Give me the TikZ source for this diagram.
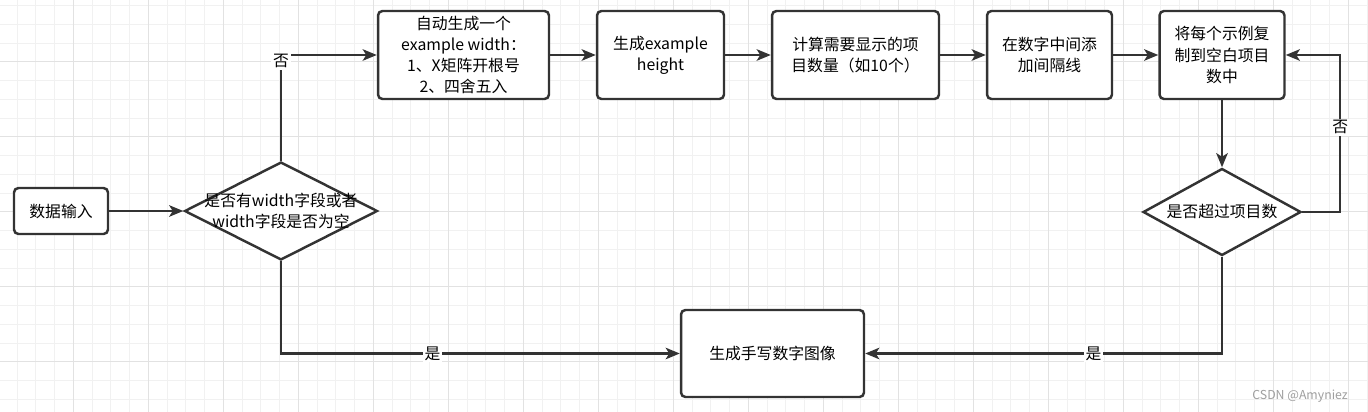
\documentclass[tikz,border=0pt]{standalone}
\usepackage{fontspec}
\setmainfont{Noto Sans CJK SC}
\usetikzlibrary{arrows.meta, positioning, shapes.geometric}
\definecolor{Line}{HTML}{333333}
\definecolor{GridMinor}{HTML}{F1F1F1}
\definecolor{GridMajor}{HTML}{E2E2E2}
\newcommand{\zhfont}{\fontsize{9pt}{12pt}\selectfont}

\begin{document}
\begin{tikzpicture}[x=0.02cm, y=-0.02cm,
    box/.style={rectangle, rounded corners=2.5pt, draw=Line, fill=white, line width=1.4pt, align=center, font=\zhfont, inner sep=2pt},
    decision/.style={diamond, draw=Line, fill=white, line width=1.4pt, inner sep=0pt},
    arrow/.style={-{Stealth[length=8pt, width=6.5pt, inset=2pt]}, draw=Line, line width=1.4pt},
    lbl/.style={fill=white, font=\zhfont, inner sep=1pt}
]
\useasboundingbox (0,0) rectangle (1368,412);
\fill[white] (0,0) rectangle (1368,412);
\begin{scope}
\clip (0,0) rectangle (1368,412);
\foreach \x in {17.05,35.8,...,1368} \draw[GridMinor, line width=0.5pt] (\x,0) -- (\x,412);
\foreach \y in {5.45,24.2,...,412} \draw[GridMinor, line width=0.5pt] (0,\y) -- (1368,\y);
\foreach \x in {-1.7,73.3,...,1368} \draw[GridMajor, line width=0.6pt] (\x,0) -- (\x,412);
\foreach \y in {-13.3,61.7,...,412} \draw[GridMajor, line width=0.6pt] (0,\y) -- (1368,\y);
\end{scope}

\node[box, minimum width=1.88cm, minimum height=0.92cm] (in) at (61,211) {数据输入};
\node[decision, minimum width=3.86cm, minimum height=1.96cm,
      label={[align=center, font=\zhfont]center:是否有width字段或者\\width字段是否为空}] (chk) at (281,211) {};
\node[box, minimum width=3.42cm, minimum height=1.76cm] (gen) at (463.5,55) {自动生成一个\\example width：\\1、X矩阵开根号\\2、四舍五入};
\node[box, minimum width=2.54cm, minimum height=1.76cm] (hgt) at (660.5,55) {生成example\\height};
\node[box, minimum width=3.34cm, minimum height=1.76cm] (cnt) at (855.5,55) {计算需要显示的项\\目数量（如10个）};
\node[box, minimum width=2.5cm, minimum height=1.76cm] (sep) at (1049.5,55) {在数字中间添\\加间隔线};
\node[box, minimum width=2.5cm, minimum height=1.76cm] (cpy) at (1222,55) {将每个示例复\\制到空白项目\\数中};
\node[decision, minimum width=3.16cm, minimum height=1.74cm,
      label={[font=\zhfont]center:是否超过项目数}] (over) at (1222,212) {};
\node[box, minimum width=3.66cm, minimum height=1.74cm] (img) at (772.5,353.5) {生成手写数字图像};
\node[text=gray!75, font=\fontsize{7pt}{8pt}\selectfont, anchor=east] (wm) at (1354,396) {CSDN @Amyniez};

\draw[arrow] (in) -- (chk);
\draw[arrow] (chk.north) |- node[lbl, pos=0.47] {否} (gen.west);
\draw[arrow] (gen) -- (hgt);
\draw[arrow] (hgt) -- (cnt);
\draw[arrow] (cnt) -- (sep);
\draw[arrow] (sep) -- (cpy);
\draw[arrow] (cpy) -- (over);
\draw[arrow] (over.east) -- ++(38,0) |- node[lbl, pos=0.27] {否} (cpy.east);
\draw[arrow] (over.south) |- node[lbl, pos=0.68] {是} (img.east);
\draw[arrow] (chk.south) |- node[lbl, pos=0.69] {是} (img.west);
\end{tikzpicture}
\end{document}
